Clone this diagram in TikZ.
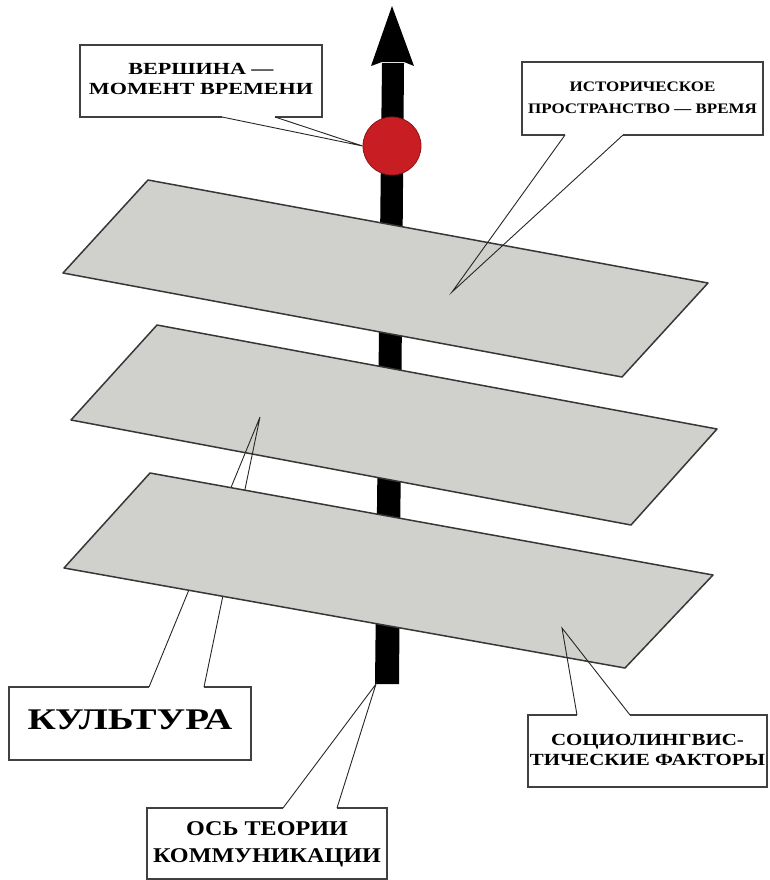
\documentclass[tikz,border=0pt]{standalone}
\usepackage{fontspec}
\setmainfont{Liberation Serif}
\usepackage{graphicx}
\usetikzlibrary{calc}
\newcommand\wtxt[4]{\scalebox{#1}[1]{\fontsize{#2}{#3}\selectfont\bfseries\begin{tabular}{@{}c@{}}#4\end{tabular}}}
\definecolor{plategray}{RGB}{208,208,205}
\definecolor{plateedge}{RGB}{55,55,55}
\definecolor{dotred}{RGB}{200,30,35}
\begin{document}
\begin{tikzpicture}[x=1pt,y=-1pt,
  plate/.style={fill=plategray,draw=plateedge,line width=1.5pt,line join=round},
  boxline/.style={draw=black!75,line width=1.8pt,line join=miter},
  wedge/.style={draw=black!85,line width=0.9pt},
  lbl/.style={inner sep=0pt,outer sep=0pt,rectangle}]
\useasboundingbox (0,0) rectangle (769,880);
% axis
\fill[black] (382,63) -- (404,63) -- (399,684) -- (375,684) -- cycle;
\fill[black] (371,66) -- (392,6) -- (414,66) -- (404,62) -- (382,62) -- cycle;
\coordinate (axbot) at (376,684);
% red point
\node[circle,minimum size=58pt,inner sep=0pt,fill=dotred,draw=dotred!70!black,line width=0.8pt] (pt) at (392,146) {};
% label: vertex
\node[lbl,minimum width=242pt,minimum height=72pt] (vt) at (201,81) {\wtxt{1.3}{17}{20}{ВЕРШИНА —\\МОМЕНТ ВРЕМЕНИ}};
\draw[boxline] ($(vt.south west)+(142,0)$) -- (vt.south west) -- (vt.north west) -- (vt.north east) -- (vt.south east) -- ($(vt.south west)+(195,0)$);
\draw[wedge] ($(vt.south west)+(142,0)$) -- (pt.west) -- ($(vt.south west)+(195,0)$);
% plate 1
\draw[plate] (148,180) -- (708,283) -- (622,377) -- (63,273) -- cycle;
\coordinate (h1) at (452,292);
% label: historical space
\node[lbl,minimum width=241pt,minimum height=73pt] (hs) at (642.5,98.5) {\wtxt{1.17}{14.5}{22}{ИСТОРИЧЕСКОЕ\\ПРОСТРАНСТВО — ВРЕМЯ}};
\draw[boxline] ($(hs.south west)+(43,0)$) -- (hs.south west) -- (hs.north west) -- (hs.north east) -- (hs.south east) -- ($(hs.south west)+(101,0)$);
\draw[wedge] ($(hs.south west)+(43,0)$) -- (h1) -- ($(hs.south west)+(101,0)$);
% plate 2
\draw[plate] (157,325) -- (717,429) -- (631,525) -- (71,420) -- cycle;
\coordinate (h2) at (260,417);
% label: culture
\node[lbl,minimum width=242pt,minimum height=73pt] (ku) at (130,723.5) {\wtxt{1.3}{30}{32}{КУЛЬТУРА}};
\draw[boxline] ($(ku.north west)+(140,0)$) -- (ku.north west) -- (ku.south west) -- (ku.south east) -- (ku.north east) -- ($(ku.north west)+(195,0)$);
\draw[wedge] ($(ku.north west)+(140,0)$) -- (h2) -- ($(ku.north west)+(195,0)$);
% plate 3
\draw[plate] (150,473) -- (713,575) -- (625,668) -- (64,568) -- cycle;
\coordinate (h3) at (562,628);
% label: sociolinguistic factors
\node[lbl,minimum width=239pt,minimum height=72pt] (sf) at (647.5,751) {\wtxt{1.23}{17}{20}{СОЦИОЛИНГВИС-\\ТИЧЕСКИЕ ФАКТОРЫ}};
\draw[boxline] ($(sf.north west)+(49,0)$) -- (sf.north west) -- (sf.south west) -- (sf.south east) -- (sf.north east) -- ($(sf.north west)+(102,0)$);
\draw[wedge] ($(sf.north west)+(49,0)$) -- (h3) -- ($(sf.north west)+(102,0)$);
% label: axis of communication theory
\node[lbl,minimum width=240pt,minimum height=71pt] (ax) at (267,843.5) {\wtxt{1.15}{21}{27}{ОСЬ ТЕОРИИ\\КОММУНИКАЦИИ}};
\draw[boxline] ($(ax.north west)+(136,0)$) -- (ax.north west) -- (ax.south west) -- (ax.south east) -- (ax.north east) -- ($(ax.north west)+(190,0)$);
\draw[wedge] ($(ax.north west)+(136,0)$) -- (axbot) -- ($(ax.north west)+(190,0)$);
\end{tikzpicture}
\end{document}
